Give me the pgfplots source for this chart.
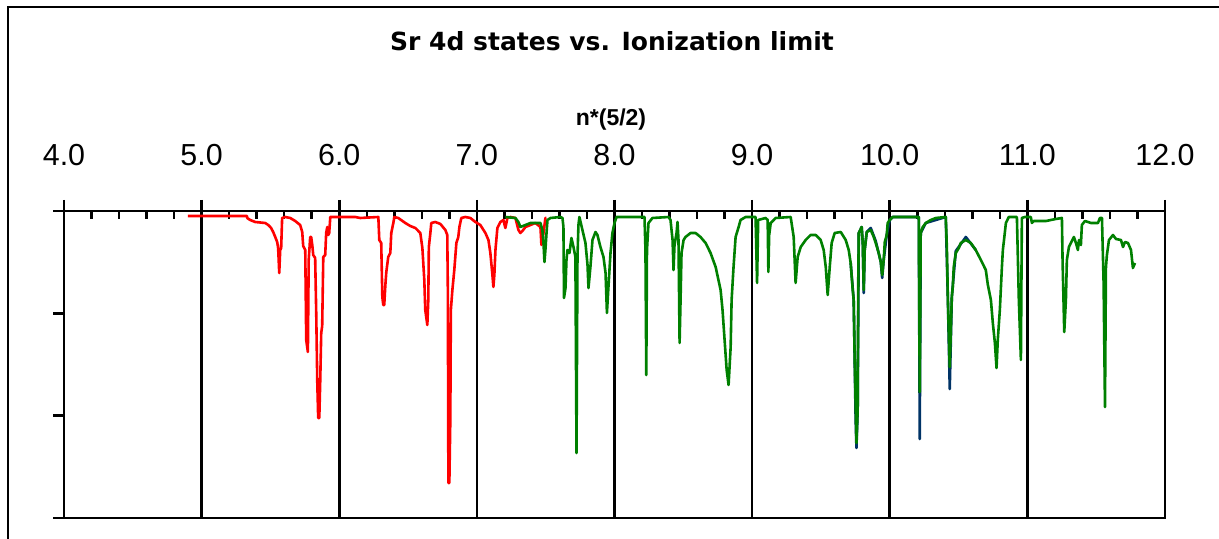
\documentclass[border=0pt]{standalone}
\usepackage{pgfplots}
\pgfplotsset{compat=1.18}
\usepackage{fontspec}
\setmainfont{Liberation Sans}
\newfontfamily\titlefont{DejaVu Sans}
\definecolor{sred}{RGB}{255,0,0}
\definecolor{sgreen}{RGB}{0,128,0}
\definecolor{snavy}{RGB}{0,51,102}
\begin{document}
\begin{tikzpicture}
\useasboundingbox (0,0) rectangle (609.5pt,269.5pt);
\draw[line width=1.1pt] (4pt,0) -- (4pt,266pt) -- (609.5pt,266pt);
\begin{axis}[at={(32pt,10.5pt)}, anchor=south west, scale only axis,
 width=550.5pt, height=153.5pt,
 xmin=4, xmax=12, ymin=0, ymax=307,
 xtick={4,5,6,7,8,9,10,11,12},
 xticklabels={4.0,5.0,6.0,7.0,8.0,9.0,10.0,11.0,12.0},
 minor x tick num=4,
 ytick={0,102.33,204.67,307}, yticklabels={},
 xtick pos=right, xticklabel pos=right, ytick pos=left,
 tick align=outside, major tick length=5.5pt, minor tick length=4pt,
 tick style={black, line width=1.25pt},
 minor tick style={yshift=-4pt},
 axis line style={line width=1.25pt},
 xmajorgrids, grid style={black, line width=1.25pt},
 xticklabel style={font=\fontsize{15.2}{15}\selectfont, anchor=base, inner sep=0pt, yshift=17pt},
 clip=false,
]
\addplot[sred, line width=1.3pt, mark=none, line join=round] coordinates {
(4.900,302)(5.331,302)(5.331,300)(5.353,298)(5.389,296)(5.462,295)(5.484,293)(5.505,290)(5.520,286)(5.535,281)(5.549,276)(5.556,270)(5.564,245)(5.571,268)(5.578,270)(5.585,300)(5.607,301)(5.644,300)(5.680,297)(5.716,293)(5.731,286)(5.738,272)(5.753,268)(5.760,178)(5.772,166)(5.778,258)(5.789,281)(5.796,281)(5.804,273)(5.811,263)(5.825,260)(5.833,203)(5.840,138)(5.847,100)(5.855,100)(5.862,138)(5.869,185)(5.876,192)(5.884,261)(5.898,263)(5.905,285)(5.913,291)(5.920,283)(5.927,285)(5.935,301)(6.116,301)(6.153,300)(6.284,301)(6.291,278)(6.305,275)(6.313,221)(6.320,213)(6.327,213)(6.335,233)(6.342,246)(6.356,261)(6.371,265)(6.378,285)(6.393,295)(6.400,301)(6.429,300)(6.480,295)(6.516,292)(6.553,290)(6.589,285)(6.604,270)(6.618,238)(6.625,208)(6.640,193)(6.647,218)(6.651,271)(6.662,285)(6.669,295)(6.698,296)(6.735,294)(6.771,288)(6.785,283)(6.789,228)(6.793,35)(6.800,35)(6.807,98)(6.811,208)(6.822,228)(6.836,248)(6.851,275)(6.865,281)(6.873,291)(6.887,300)(6.916,301)(6.953,300)(6.989,296)(7.025,293)(7.062,285)(7.084,278)(7.098,265)(7.113,243)(7.120,231)(7.127,243)(7.135,268)(7.149,290)(7.171,296)(7.193,298)(7.207,290)(7.222,300)(7.244,301)(7.280,300)(7.302,288)(7.316,285)(7.331,287)(7.353,291)(7.425,295)(7.462,291)(7.469,273)(7.484,285)(7.498,300)(7.505,300)
};
\addplot[snavy, line width=1.3pt, mark=none, line join=round] coordinates {
(9.716,255)(9.738,218)(9.752,100)(9.758,70)(9.767,108)(9.775,285)(9.796,291)(9.804,275)(9.811,225)(9.818,268)(9.833,286)(9.862,290)(9.898,277)(9.935,256)(9.945,240)(9.956,258)(9.978,283)(10.000,298)(10.022,301)(10.211,301)(10.218,79)(10.225,285)(10.262,295)(10.407,301)(10.422,221)(10.436,129)(10.451,221)(10.480,267)(10.553,281)(10.625,268)
};
\addplot[sgreen, line width=1.3pt, mark=none, line join=round] coordinates {
(7.207,301)(7.280,300)(7.302,296)(7.316,291)(7.353,293)(7.389,295)(7.462,295)(7.476,288)(7.484,275)(7.491,256)(7.498,268)(7.505,283)(7.513,298)(7.535,300)(7.607,301)(7.622,300)(7.629,291)(7.633,220)(7.644,230)(7.651,258)(7.658,268)(7.673,265)(7.687,280)(7.702,271)(7.716,261)(7.724,65)(7.731,261)(7.738,293)(7.745,301)(7.767,288)(7.789,275)(7.804,253)(7.811,230)(7.825,251)(7.840,278)(7.862,286)(7.876,283)(7.898,271)(7.920,261)(7.935,245)(7.945,205)(7.956,231)(7.971,265)(7.985,285)(8.000,295)(8.015,301)(8.218,301)(8.225,268)(8.231,143)(8.236,268)(8.247,295)(8.276,300)(8.393,301)(8.407,298)(8.422,278)(8.429,248)(8.436,273)(8.451,285)(8.458,296)(8.465,278)(8.473,175)(8.480,218)(8.487,265)(8.502,278)(8.516,281)(8.553,285)(8.589,285)(8.625,281)(8.662,275)(8.698,265)(8.735,251)(8.771,228)(8.785,208)(8.800,178)(8.815,148)(8.829,133)(8.844,171)(8.851,218)(8.865,251)(8.880,281)(8.902,291)(8.916,298)(8.953,301)(9.025,301)(9.036,235)(9.044,298)(9.098,300)(9.113,298)(9.118,246)(9.124,283)(9.135,295)(9.171,300)(9.280,301)(9.302,281)(9.309,258)(9.316,235)(9.331,261)(9.353,271)(9.389,278)(9.425,283)(9.462,283)(9.498,278)(9.520,268)(9.535,251)(9.549,223)(9.564,251)(9.578,275)(9.600,285)(9.644,286)(9.680,278)(9.702,268)(9.716,255)(9.731,228)(9.738,218)(9.745,161)(9.758,75)(9.767,108)(9.771,235)(9.775,285)(9.796,291)(9.804,275)(9.811,228)(9.818,268)(9.833,286)(9.862,288)(9.884,281)(9.898,275)(9.920,265)(9.935,256)(9.945,243)(9.956,258)(9.964,276)(9.978,283)(9.985,295)(10.000,298)(10.022,301)(10.211,301)(10.218,126)(10.225,285)(10.240,291)(10.262,295)(10.298,298)(10.335,300)(10.407,301)(10.415,271)(10.422,221)(10.436,151)(10.451,221)(10.458,231)(10.465,251)(10.480,265)(10.502,270)(10.516,275)(10.553,278)(10.589,275)(10.625,268)(10.662,258)(10.698,248)(10.713,233)(10.735,218)(10.749,195)(10.764,175)(10.776,150)(10.785,178)(10.800,208)(10.815,251)(10.822,268)(10.836,285)(10.844,295)(10.865,301)(10.924,301)(10.938,218)(10.953,158)(10.960,300)(10.982,301)(11.025,301)(11.033,295)(11.047,297)(11.135,297)(11.207,299)(11.251,300)(11.256,256)(11.268,186)(11.280,218)(11.287,258)(11.302,271)(11.316,275)(11.338,281)(11.353,275)(11.367,268)(11.375,278)(11.389,273)(11.396,293)(11.418,297)(11.462,295)(11.513,295)(11.527,300)(11.542,300)(11.554,235)(11.564,111)(11.571,251)(11.578,263)(11.593,278)(11.622,283)(11.644,279)(11.680,278)(11.695,271)(11.709,276)(11.731,275)(11.753,268)(11.767,250)(11.782,255)
};
\end{axis}
\node[anchor=base, inner sep=0pt] at (306pt,244pt) {\titlefont\bfseries\fontsize{12.5}{14}\selectfont Sr 4d states vs. Ionization limit};
\node[anchor=base, inner sep=0pt] at (305.5pt,206.5pt) {\bfseries\fontsize{11.5}{13}\selectfont n*(5/2)};
\end{tikzpicture}
\end{document}
